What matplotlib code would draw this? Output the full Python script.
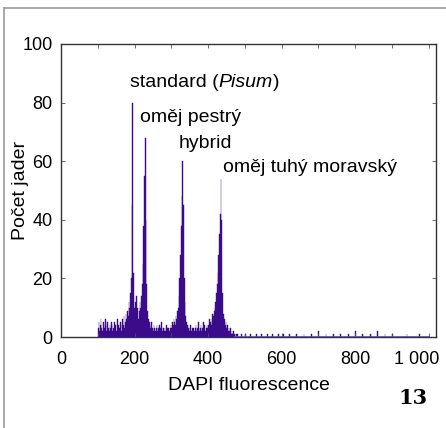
import matplotlib
matplotlib.use("Agg")
import matplotlib.pyplot as plt
from matplotlib.lines import Line2D
import matplotlib.transforms as mtransforms
import numpy as np

plt.rcParams['font.family'] = ['Liberation Sans', 'DejaVu Sans']

# Histogram channels (bin width 2) from 98 to 476
bin_start = 98
bin_width = 2
counts_dense = [
    0, 3, 5, 2, 4, 6, 3, 2, 5, 4,        # 98-116
    3, 6, 2, 4, 5, 3, 2, 4, 3, 5,        # 118-136
    4, 2, 3, 5, 3, 4, 2, 6, 3, 4,        # 138-156
    3, 5, 4, 2, 6, 4, 7, 3, 5, 8,        # 158-176
    6, 9, 7, 12, 10, 15, 20, 45, 80, 22,  # 178-196
    10, 8, 12, 14, 8, 10, 6, 9, 12, 10,  # 198-216
    14, 18, 25, 38, 55, 68, 40, 18, 9, 6,  # 218-236
    4, 5, 3, 4, 5, 3, 2, 4, 3, 2,        # 238-256
    3, 4, 2, 3, 4, 2, 3, 5, 3, 2,        # 258-276
    3, 2, 3, 2, 4, 3, 2, 3, 2, 3,        # 278-296
    4, 3, 5, 4, 6, 5, 4, 7, 6, 9,        # 298-316
    10, 14, 20, 28, 38, 48, 60, 45, 20, 12,  # 318-336
    7, 5, 3, 4, 3, 2, 3, 4, 2, 3,        # 338-356
    2, 3, 2, 3, 4, 2, 3, 5, 3, 2,        # 358-376
    3, 4, 2, 3, 5, 3, 4, 2, 3, 4,        # 378-396
    3, 4, 6, 3, 5, 4, 6, 8, 7, 9,        # 398-416
    10, 12, 15, 18, 22, 28, 35, 42, 54, 40,  # 418-436
    15, 8, 5, 6, 4, 5, 3, 4, 2, 3,       # 438-456
    2, 3, 1, 2, 1, 2, 1, 1, 0, 1,        # 458-476
]
# Sparse tail
tail_x = [480, 490, 500, 515, 530, 545, 560, 575, 590, 605, 620, 640, 660, 680,
          700, 720, 740, 760, 780, 800, 820, 840, 860, 880, 900, 940, 975]
tail_counts = [1, 1, 1, 1, 1, 1, 1, 1, 1, 1, 1, 1, 1, 1,
               2, 1, 1, 1, 1, 2, 1, 1, 2, 1, 1, 1, 1]

xticks = [0, 200, 400, 600, 800, 1000]
xticklabels = ["0", "200", "400", "600", "800", "1 000"]
yticks = [0, 20, 40, 60, 80, 100]

labels = ["standard (", "oměj pestrý", "hybrid", "oměj tuhý moravský"]

fig = plt.figure(figsize=(4.46, 4.28), dpi=100)
ax = fig.add_axes([0.1368, 0.2126, 0.8408, 0.6846])

x_dense = bin_start + bin_width * np.arange(len(counts_dense))
fill_c = '#3a0c8c'
ax.bar(x_dense, counts_dense, width=bin_width, color=fill_c, edgecolor=fill_c,
       linewidth=0.3, align='edge')
ax.bar(tail_x, tail_counts, width=bin_width, color=fill_c, edgecolor=fill_c,
       linewidth=0.3, align='edge')
ax.axhline(0.2, xmin=0.46, xmax=0.98, color='#6a58a8', lw=0.6)

ax.set_xlim(0, 1020)
ax.set_ylim(0, 100)
ax.set_xticks(xticks)
ax.set_xticklabels(xticklabels)
ax.set_xticks(np.arange(100, 1001, 200), minor=True)
ax.set_yticks(yticks)
ax.tick_params(direction='in', top=True, right=True, length=3, labelsize=13,
               width=0.6, color='#555555')
ax.tick_params(axis='x', pad=10)
ax.tick_params(axis='y', pad=6)
ax.tick_params(which='minor', direction='in', top=True, bottom=True, length=3,
               width=0.6, color='#555555')
for s in ax.spines.values():
    s.set_linewidth(1.0)
    s.set_color('#333333')

# shift the last x tick label to the left so it fits
last = ax.get_xticklabels()[-1]
last.set_transform(last.get_transform() +
                   mtransforms.ScaledTranslation(-12 / 100, 0, fig.dpi_scale_trans))

ax.set_xlabel("DAPI fluorescence", fontsize=14)
ax.set_ylabel("Počet jader", fontsize=14)
ax.xaxis.set_label_coords(0.5, -0.135)
ax.yaxis.set_label_coords(-0.085, 0.5)

fs = 14
t = ax.text(188, 87, "standard (", fontsize=fs, va='center', ha='left')
fig.canvas.draw()
r = fig.canvas.get_renderer()
bb = t.get_window_extent(r)
inv = ax.transData.inverted()
xd = inv.transform((bb.x1, 0))[0]
t2 = ax.text(xd, 87, "Pisum", fontsize=fs, va='center', ha='left', style='italic')
bb2 = t2.get_window_extent(r)
xd2 = inv.transform((bb2.x1, 0))[0]
ax.text(xd2, 87, ")", fontsize=fs, va='center', ha='left')

ax.text(215, 75, labels[1], fontsize=fs, va='center', ha='left')
ax.text(321, 66, labels[2], fontsize=fs, va='center', ha='left')
ax.text(441, 58, labels[3], fontsize=fs, va='center', ha='left')

fig.text(413 / 446, 1 - 398 / 428, "13", fontsize=15, fontweight='bold',
         family='DejaVu Serif', ha='center', va='center')

# outer frame
fig.add_artist(Line2D([3.5 / 446, 3.5 / 446], [0, 1 - 8 / 428],
                      transform=fig.transFigure, color='#999999', lw=1.2))
fig.add_artist(Line2D([3.5 / 446, 1], [1 - 8 / 428, 1 - 8 / 428],
                      transform=fig.transFigure, color='#999999', lw=1.2))

fig.savefig("out.png", dpi=100)
